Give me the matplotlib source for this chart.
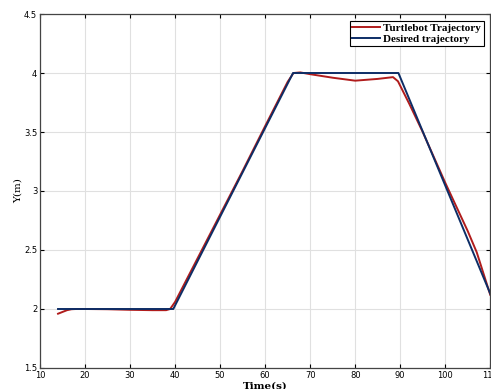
import matplotlib
matplotlib.use("Agg")
import matplotlib.pyplot as plt

# Desired trajectory (piecewise linear)
t_desired = [14, 39.6, 66.2, 89.6, 110]
y_desired = [2.0, 2.0, 4.0, 4.0, 2.13]

# Turtlebot trajectory
t_bot = [14, 15, 16, 17, 18, 20, 25, 30, 35, 38, 38.9, 40, 45, 50, 55, 60, 65, 66.3, 67.8,
         70, 75, 80, 85, 88.4, 89.5, 92, 95, 100, 105, 107, 110]
y_bot = [1.96, 1.975, 1.99, 1.998, 2.0, 2.0, 1.998, 1.993, 1.99, 1.99, 2.0, 2.06, 2.43, 2.8, 3.17,
         3.55, 3.925, 4.0, 4.005, 3.99, 3.96, 3.935, 3.95, 3.965, 3.93, 3.74, 3.5, 3.07, 2.66, 2.48, 2.12]

fig = plt.figure(figsize=(4.91, 3.89), dpi=100)
ax = fig.add_axes([0.0815, 0.054, 0.917, 0.91])

ax.plot(t_bot, y_bot, color='#b01c1c', lw=1.4, label='Turtlebot Trajectory')
ax.plot(t_desired, y_desired, color='#0d2d66', lw=1.4, label='Desired trajectory')

ax.set_xlim(10, 110)
ax.set_ylim(1.5, 4.5)
ax.set_xticks(range(10, 111, 10))
ax.set_yticks([1.5, 2, 2.5, 3, 3.5, 4, 4.5])
ax.set_yticklabels(['1.5', '2', '2.5', '3', '3.5', '4', '4.5'])
ax.grid(True, color='#e0e0e0', lw=0.8)
ax.tick_params(direction='in', length=3, labelsize=6, top=True, right=True, pad=2)
for s in ax.spines.values():
    s.set_color('#444444')
    s.set_linewidth(0.9)

ax.set_xlabel('Time(s)', family='DejaVu Serif', fontweight='bold', fontsize=7.5, labelpad=1)
ax.set_ylabel('Y(m)', family='DejaVu Serif', fontsize=7.5, labelpad=1)

leg = ax.legend(loc='upper right', prop={'family': 'Liberation Serif', 'weight': 'bold', 'size': 8},
                fancybox=False, framealpha=1, edgecolor='black', handlelength=2.5,
                borderpad=0.2, labelspacing=0.1, handletextpad=0.3, borderaxespad=0.6)
leg.get_frame().set_linewidth(0.8)

fig.savefig('out.png', dpi=100)
